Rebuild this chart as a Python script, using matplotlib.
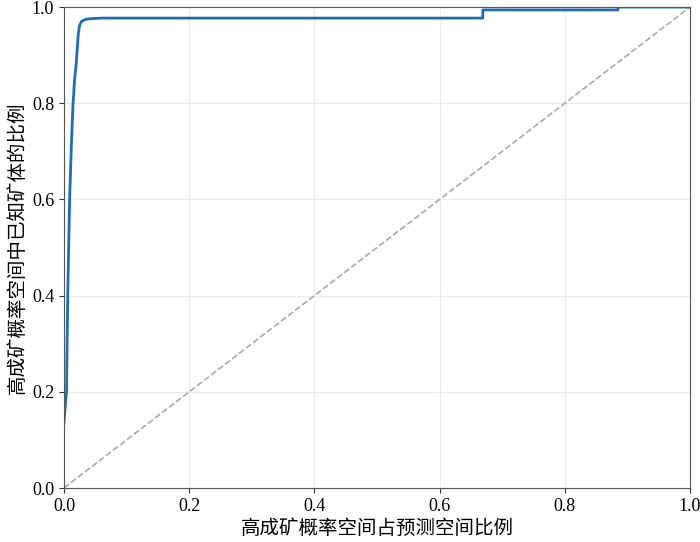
import matplotlib
matplotlib.use("Agg")
import matplotlib.pyplot as plt

# curve values
fpr = [0.0, 0.002, 0.004, 0.006, 0.009, 0.012, 0.0145, 0.017, 0.019, 0.021, 0.023, 0.025,
       0.028, 0.032, 0.037, 0.045, 0.061, 0.669, 0.669, 0.885, 0.885, 1.0]
tpr = [0.135, 0.17, 0.20, 0.40, 0.60, 0.72, 0.80, 0.85, 0.875, 0.91, 0.946, 0.962,
       0.970, 0.973, 0.975, 0.976, 0.977, 0.977, 0.994, 0.994, 1.0, 1.0]
ref_x = [0, 1]
ref_y = [0, 1]
ticks = [0, 0.2, 0.4, 0.6, 0.8, 1.0]
tick_labels = ["0.0", "0.2", "0.4", "0.6", "0.8", "1.0"]

xlabel = "高成矿概率空间占预测空间比例"
ylabel = "高成矿概率空间中已知矿体的比例"

plt.rcParams["font.family"] = ["Liberation Serif", "Noto Sans CJK SC"]
plt.rcParams["font.size"] = 13

fig = plt.figure(figsize=(7, 5.42), dpi=100)
ax = fig.add_axes([0.0914, 0.0996, 0.8943, 0.8874])

ax.plot(ref_x, ref_y, linestyle="--", color="#aaaaaa", linewidth=1.2)
ax.plot(fpr, tpr, color="#1f6fb0", linewidth=2)

ax.set_xlim(0, 1)
ax.set_ylim(0, 1)
ax.set_xticks(ticks)
ax.set_yticks(ticks)
ax.set_xticklabels(tick_labels)
ax.set_yticklabels(tick_labels)
ax.grid(True, color="#ebebeb", linewidth=0.8)
ax.set_axisbelow(True)
for s in ax.spines.values():
    s.set_color("#555555")
ax.tick_params(colors="#333333", labelcolor="black", labelsize=13)

ax.set_xlabel(xlabel, fontsize=14, labelpad=3)
ax.set_ylabel(ylabel, fontsize=14, labelpad=4)

fig.savefig("out.png", dpi=100)
